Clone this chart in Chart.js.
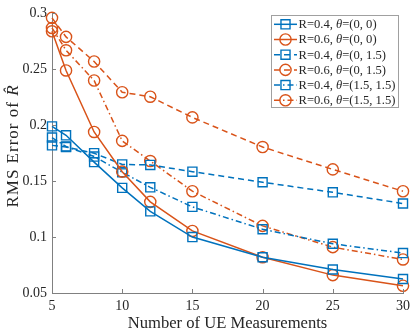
<!DOCTYPE html>
<html><head><meta charset="utf-8">
<script src="https://cdn.jsdelivr.net/npm/chart.js@4.4.0/dist/chart.umd.min.js"></script>
<style>html,body{margin:0;padding:0;background:#fff}#wrap{width:415px;height:334px}</style>
</head><body><div id="wrap"><canvas id="c" width="415" height="334"></canvas></div>
<script>
// ---- data ----
const measurements = [5, 6, 8, 10, 12, 15, 20, 25, 30];
const r04_t00   = [0.199, 0.191, 0.167, 0.144, 0.123, 0.100, 0.082, 0.071, 0.0625];
const r06_t00   = [0.284, 0.249, 0.194, 0.1585, 0.1315, 0.1055, 0.082, 0.066, 0.0565];
const r04_t015  = [0.182, 0.1805, 0.175, 0.165, 0.1645, 0.1585, 0.149, 0.140, 0.130];
const r06_t015  = [0.296, 0.279, 0.257, 0.2295, 0.2255, 0.207, 0.1805, 0.1605, 0.141];
const r04_t1515 = [0.189, 0.181, 0.172, 0.158, 0.1445, 0.127, 0.107, 0.094, 0.0857];
const r06_t1515 = [0.287, 0.267, 0.240, 0.186, 0.168, 0.141, 0.110, 0.091, 0.080];
const seriesLabels = ["R=0.4, θ=(0, 0)", "R=0.6, θ=(0, 0)", "R=0.4, θ=(0, 1.5)",
                      "R=0.6, θ=(0, 1.5)", "R=0.4, θ=(1.5, 1.5)", "R=0.6, θ=(1.5, 1.5)"];
const xTicks = [5, 10, 15, 20, 25, 30];
const yTicks = [0.05, 0.1, 0.15, 0.2, 0.25, 0.3];
const xTitle = "Number of UE Measurements";
const yTitle = "RMS Error of ";
const yTitleVar = "R\u0302";

// ---- styles ----
const BLUE = '#0072BD', ORANGE = '#D95319';
const DASH = [6, 4], DASHDOT = [6, 3, 1.5, 3];
const TXT = '#262626', AXIS = '#808080';
const FONT = '"Liberation Serif", "Times New Roman", serif';

function mk(label, vals, color, dash, shape) {
  return {
    label, data: measurements.map((x, i) => ({x, y: vals[i]})),
    borderColor: color, borderWidth: 1.5, borderDash: dash,
    pointStyle: shape, pointRadius: shape === 'rect' ? 6.4 : 5.6,
    pointBorderColor: color, pointBorderWidth: 1.4,
    pointBackgroundColor: 'rgba(0,0,0,0)', pointHoverRadius: 0,
    fill: false, tension: 0, clip: false
  };
}
const datasets = [
  mk(seriesLabels[0], r04_t00, BLUE, [], 'rect'),
  mk(seriesLabels[1], r06_t00, ORANGE, [], 'circle'),
  mk(seriesLabels[2], r04_t015, BLUE, DASH, 'rect'),
  mk(seriesLabels[3], r06_t015, ORANGE, DASH, 'circle'),
  mk(seriesLabels[4], r04_t1515, BLUE, DASHDOT, 'rect'),
  mk(seriesLabels[5], r06_t1515, ORANGE, DASHDOT, 'circle'),
];

function drawMarker(ctx, shape, x, y, r, color, lw) {
  ctx.save();
  ctx.setLineDash([]);
  ctx.strokeStyle = color; ctx.lineWidth = lw;
  ctx.beginPath();
  if (shape === 'rect') { const s = Math.SQRT1_2 * r; ctx.rect(x - s, y - s, 2 * s, 2 * s); }
  else ctx.arc(x, y, r, 0, Math.PI * 2);
  ctx.stroke();
  ctx.restore();
}

const extras = {
  id: 'extras',
  afterDraw(chart) {
    const ctx = chart.ctx;
    const xs = chart.scales.x, ys = chart.scales.y;
    const area = chart.chartArea;
    // inside ticks
    ctx.save();
    ctx.strokeStyle = AXIS; ctx.lineWidth = 1;
    ctx.beginPath();
    xTicks.forEach(v => { const px = Math.round(xs.getPixelForValue(v)) + 0.5; ctx.moveTo(px, area.bottom); ctx.lineTo(px, area.bottom - 4); });
    yTicks.forEach(v => { const py = Math.round(ys.getPixelForValue(v)) + 0.5; ctx.moveTo(area.left, py); ctx.lineTo(area.left + 4, py); });
    ctx.stroke();
    ctx.restore();

    // axis titles
    ctx.save();
    ctx.fillStyle = TXT;
    ctx.font = '16.6px ' + FONT;
    ctx.textAlign = 'center'; ctx.textBaseline = 'alphabetic';
    ctx.fillText(xTitle, (area.left + area.right) / 2, 328);
    ctx.restore();

    ctx.save();
    ctx.fillStyle = TXT;
    ctx.translate(18, 146);
    ctx.rotate(-Math.PI / 2);
    ctx.textBaseline = 'alphabetic'; ctx.textAlign = 'left';
    const fN = '17px ' + FONT, fI = 'italic 17px ' + FONT;
    ctx.letterSpacing = '1px';
    ctx.font = fN; const w1 = ctx.measureText(yTitle).width;
    ctx.font = fI; const w2 = ctx.measureText(yTitleVar).width;
    const x0 = -(w1 + w2) / 2;
    ctx.font = fN; ctx.fillText(yTitle, x0, 0);
    ctx.font = fI; ctx.fillText(yTitleVar, x0 + w1, 0);
    ctx.restore();

    // legend
    const L = 271, T = 15, W = 127, H = 92;
    ctx.save();
    ctx.fillStyle = '#fff'; ctx.fillRect(L, T, W, H);
    ctx.strokeStyle = '#a0a0a0'; ctx.lineWidth = 1;
    ctx.strokeRect(L + 0.5, T + 0.5, W, H);
    chart.data.datasets.forEach((ds, i) => {
      const cy = 24.3 + i * 15.2;
      ctx.save();
      ctx.strokeStyle = ds.borderColor; ctx.lineWidth = ds.borderWidth;
      ctx.setLineDash(ds.borderDash);
      ctx.beginPath(); ctx.moveTo(274, cy); ctx.lineTo(297, cy); ctx.stroke();
      ctx.restore();
      drawMarker(ctx, ds.pointStyle, 285.5, cy, ds.pointRadius, ds.borderColor, ds.pointBorderWidth);
      const parts = ds.label.split('θ');
      ctx.fillStyle = TXT; ctx.textBaseline = 'middle'; ctx.textAlign = 'left';
      let tx = 298.5;
      const fs = '12.6px ';
      ctx.font = fs + FONT; ctx.fillText(parts[0], tx, cy + 0.5); tx += ctx.measureText(parts[0]).width;
      ctx.font = 'italic ' + fs + FONT; ctx.fillText('θ', tx, cy + 0.5); tx += ctx.measureText('θ').width;
      ctx.font = fs + FONT; ctx.fillText(parts[1], tx, cy + 0.5);
    });
    ctx.restore();
  }
};

new Chart(document.getElementById('c'), {
  type: 'line',
  data: { datasets },
  options: {
    responsive: false, animation: false, devicePixelRatio: 1,
    layout: { padding: { top: 9, right: 8, left: 0, bottom: 0 } },
    plugins: { legend: { display: false }, tooltip: { enabled: false } },
    scales: {
      x: {
        type: 'linear', min: 5, max: 30,
        afterBuildTicks: s => { s.ticks = xTicks.map(v => ({ value: v })); },
        afterFit: s => { s.height = 41; },
        ticks: { font: { family: FONT, size: 14 }, color: TXT, padding: 5, maxRotation: 0, callback: v => String(v) },
        grid: { display: true, drawOnChartArea: false, drawTicks: false },
        border: { display: true, color: AXIS, width: 1 }
      },
      y: {
        type: 'linear', min: 0.05, max: 0.3,
        afterBuildTicks: s => { s.ticks = yTicks.map(v => ({ value: v })); },
        afterFit: s => { s.width = 52; },
        ticks: { font: { family: FONT, size: 14 }, color: TXT, padding: 5, callback: v => String(Number(v.toFixed(2))) },
        grid: { display: true, drawOnChartArea: false, drawTicks: false },
        border: { display: true, color: AXIS, width: 1 }
      }
    }
  },
  plugins: [extras]
});
</script></body></html>
